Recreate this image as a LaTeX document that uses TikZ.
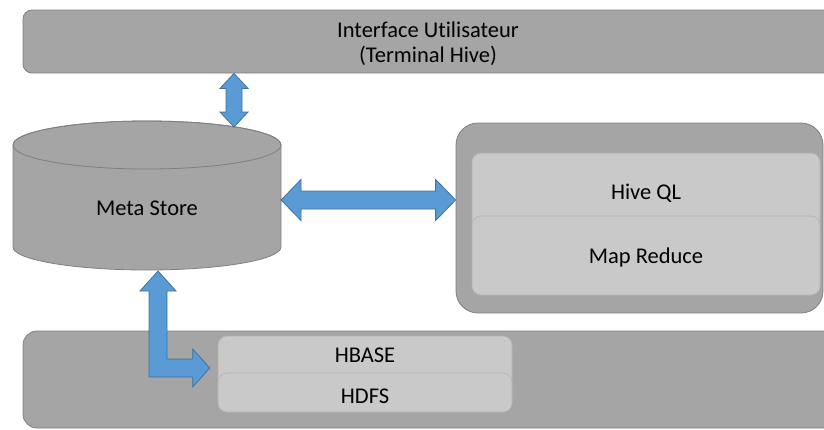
\documentclass[tikz,border=0pt]{standalone}
\usepackage{fontspec}
\setmainfont{Carlito}[Ligatures={NoCommon}]
\usetikzlibrary{calc}
\definecolor{boxgrey}{RGB}{165,165,165}
\definecolor{boxline}{RGB}{128,128,128}
\definecolor{innergrey}{RGB}{201,201,201}
\definecolor{innerline}{RGB}{178,178,178}
\definecolor{arrowfill}{RGB}{91,155,213}
\definecolor{arrowline}{RGB}{65,113,156}
\tikzset{
  bigbox/.style={draw=boxline, fill=boxgrey, line width=0.8pt, rectangle, inner sep=0pt},
  innerbox/.style={draw=innerline, fill=innergrey, line width=0.6pt, rectangle, rounded corners=9pt, inner sep=0pt},
  blockarrow/.style={fill=arrowfill, draw=arrowline, line width=0.8pt, line join=miter},
  lbl/.style={font=\fontsize{22.5}{25}\selectfont, text=black, align=center, inner sep=0pt},
}
\begin{document}
\begin{tikzpicture}[x=1pt,y=-1pt]
\useasboundingbox (0,0) rectangle (824,429);
\clip (0,0) rectangle (824,429);
% top bar
\node[bigbox, rounded corners=9pt, minimum width=817pt, minimum height=63pt] (ui) at (431.5,41.5) {};
\node[lbl] (uitext) at (428,44) {Interface Utilisateur\\(Terminal Hive)};
% bottom bar
\node[bigbox, rounded corners=14pt, minimum width=817pt, minimum height=97pt] (store) at (431.5,379.5) {};
\node[innerbox, minimum width=294pt, minimum height=76pt] (hbase) at (365,374) {};
\node[innerbox, minimum width=294pt, minimum height=39pt] (hdfs) at (365,392.5) {};
\node[lbl] at (365,355) {HBASE};
\node[lbl] (hdfstext) at (365,396) {HDFS};
% right box
\node[bigbox, rounded corners=22pt, minimum width=367pt, minimum height=190pt] (engine) at (639.5,218) {};
\node[innerbox, minimum width=348pt, minimum height=80pt] (hiveql) at (646,193) {};
\node[innerbox, minimum width=348pt, minimum height=79pt] (mapred) at (646,255.5) {};
\node[lbl] at (646,193) {Hive QL};
\node[lbl] at (646,257) {Map Reduce};
% cylinder
\filldraw[fill=boxgrey, draw=boxline, line width=0.8pt]
  (13,145) -- (13,247) arc[start angle=180, end angle=360, x radius=134pt, y radius=23pt]
  -- (281,145) arc[start angle=0, end angle=180, x radius=134pt, y radius=24pt] -- cycle;
\draw[boxline, line width=0.8pt] (147,145) ellipse[x radius=134pt, y radius=24pt];
\node[lbl] (ms) at (147,208) {Meta Store};
\coordinate (msE) at (281,200);
\coordinate (msTop) at (234,127);
\coordinate (msBot) at (158,271);
% vertical double arrow ui <-> meta store
\coordinate (vA) at (ui.south -| msTop);
\filldraw[blockarrow]
  ($(vA)+(0,0)$) -- ($(vA)+(14,15)$) -- ($(vA)+(8,15)$) -- ($(msTop)+(8,-15)$)
  -- ($(msTop)+(14,-15)$) -- (msTop) -- ($(msTop)+(-14,-15)$) -- ($(msTop)+(-8,-15)$)
  -- ($(vA)+(-8,15)$) -- ($(vA)+(-14,15)$) -- cycle;
% horizontal double arrow meta store <-> engine
\coordinate (hB) at (engine.west |- msE);
\filldraw[blockarrow]
  (msE) -- ($(msE)+(20,-20.5)$) -- ($(msE)+(20,-9)$) -- ($(hB)+(-20,-9)$)
  -- ($(hB)+(-20,-20.5)$) -- (hB) -- ($(hB)+(-20,20.5)$) -- ($(hB)+(-20,9)$)
  -- ($(msE)+(20,9)$) -- ($(msE)+(20,20.5)$) -- cycle;
% elbow arrow meta store <-> hbase
\coordinate (eT) at ($(hbase.west |- 0,368)+(-8,0)$);
\coordinate (corner) at (msBot |- eT);
\filldraw[blockarrow]
  (msBot) -- ($(msBot)+(18,20)$) -- ($(msBot)+(9,20)$) -- ($(corner)+(9,-9)$)
  -- ($(eT)+(-17,-9)$) -- ($(eT)+(-17,-19)$) -- (eT) -- ($(eT)+(-17,19)$)
  -- ($(eT)+(-17,9)$) -- ($(corner)+(-9,9)$) -- ($(msBot)+(-9,20)$)
  -- ($(msBot)+(-18,20)$) -- cycle;
\end{tikzpicture}
\end{document}
